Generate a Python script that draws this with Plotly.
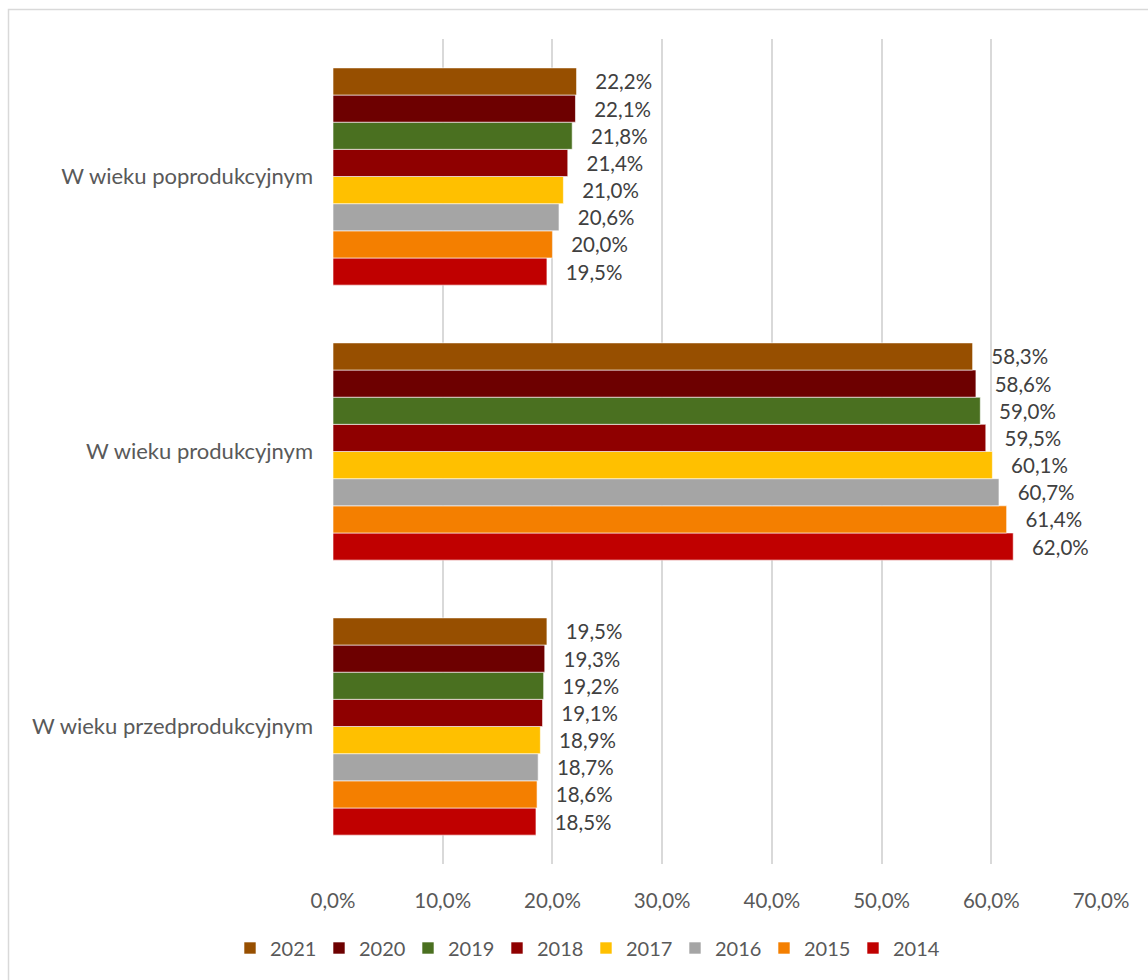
import plotly.graph_objects as go

# Age groups (bottom to top on the category axis)
categories = ["W wieku przedprodukcyjnym", "W wieku produkcyjnym", "W wieku poprodukcyjnym"]

# Share of population per year, in the same category order
years = ["2014", "2015", "2016", "2017", "2018", "2019", "2020", "2021"]
v2014 = [18.5, 62.0, 19.5]
v2015 = [18.6, 61.4, 20.0]
v2016 = [18.7, 60.7, 20.6]
v2017 = [18.9, 60.1, 21.0]
v2018 = [19.1, 59.5, 21.4]
v2019 = [19.2, 59.0, 21.8]
v2020 = [19.3, 58.6, 22.1]
v2021 = [19.5, 58.3, 22.2]
series = [v2014, v2015, v2016, v2017, v2018, v2019, v2020, v2021]

colors = ["#c00000", "#f47f00", "#a5a5a5", "#ffc000",
          "#8f0000", "#4a7020", "#6d0000", "#974f00"]

tick_vals = [0, 10, 20, 30, 40, 50, 60, 70]
tick_text = ["0,0%", "10,0%", "20,0%", "30,0%", "40,0%", "50,0%", "60,0%", "70,0%"]

FONT = "Lato, 'Open Sans', sans-serif"
TXT = "#404040"
AXT = "#595959"

fig = go.Figure()
for year, vals, col in zip(years, series, colors):
    labels = ["\u00a0\u00a0\u00a0" + f"{v:.1f}".replace(".", ",") + "%" for v in vals]
    fig.add_trace(go.Bar(
        y=categories, x=vals, name=year, orientation="h",
        marker=dict(color=col, line=dict(color="white", width=0.6)),
        text=labels, textposition="outside", constraintext="none",
        cliponaxis=False,
        textfont=dict(family=FONT, size=20.5, color=TXT),
        hoverinfo="x+name",
    ))

W, H = 1148, 980
L, R, T, B = 333, 47, 39, 116
pw, ph = W - L - R, H - T - B

def px_x(p):
    return (p - L) / pw

def px_y(p):
    return (H - B - p) / ph

fig.update_layout(
    width=W, height=H,
    margin=dict(l=L, r=R, t=T, b=B, pad=0),
    paper_bgcolor="white", plot_bgcolor="white",
    barmode="group", bargap=0.21, bargroupgap=0,
    font=dict(family=FONT, color=AXT),
    xaxis=dict(
        range=[0, 70], tickvals=tick_vals, ticktext=tick_text,
        showgrid=True, gridcolor="#d9d9d9", gridwidth=1.5,
        zeroline=False, showline=False, ticks="",
        ticklabelstandoff=22,
        tickfont=dict(family=FONT, size=20.5, color=AXT),
        fixedrange=True,
    ),
    yaxis=dict(
        showgrid=False, zeroline=False, showline=False, ticks="",
        ticklabelstandoff=19,
        tickfont=dict(family=FONT, size=22, color=AXT),
        fixedrange=True,
    ),
    legend=dict(
        orientation="h", traceorder="reversed",
        x=px_x(230), xanchor="left", y=px_y(948), yanchor="middle",
        font=dict(family=FONT, size=20, color=AXT),
        entrywidth=44, entrywidthmode="pixels",
        itemwidth=30, bgcolor="rgba(0,0,0,0)",
    ),
    shapes=[dict(
        type="rect", xref="paper", yref="paper",
        x0=px_x(8.5), x1=px_x(1160), y0=px_y(990), y1=px_y(9.5),
        line=dict(color="#d9d9d9", width=1.5), fillcolor="rgba(0,0,0,0)",
        layer="below",
    )],
)

fig.write_html("out.html")
